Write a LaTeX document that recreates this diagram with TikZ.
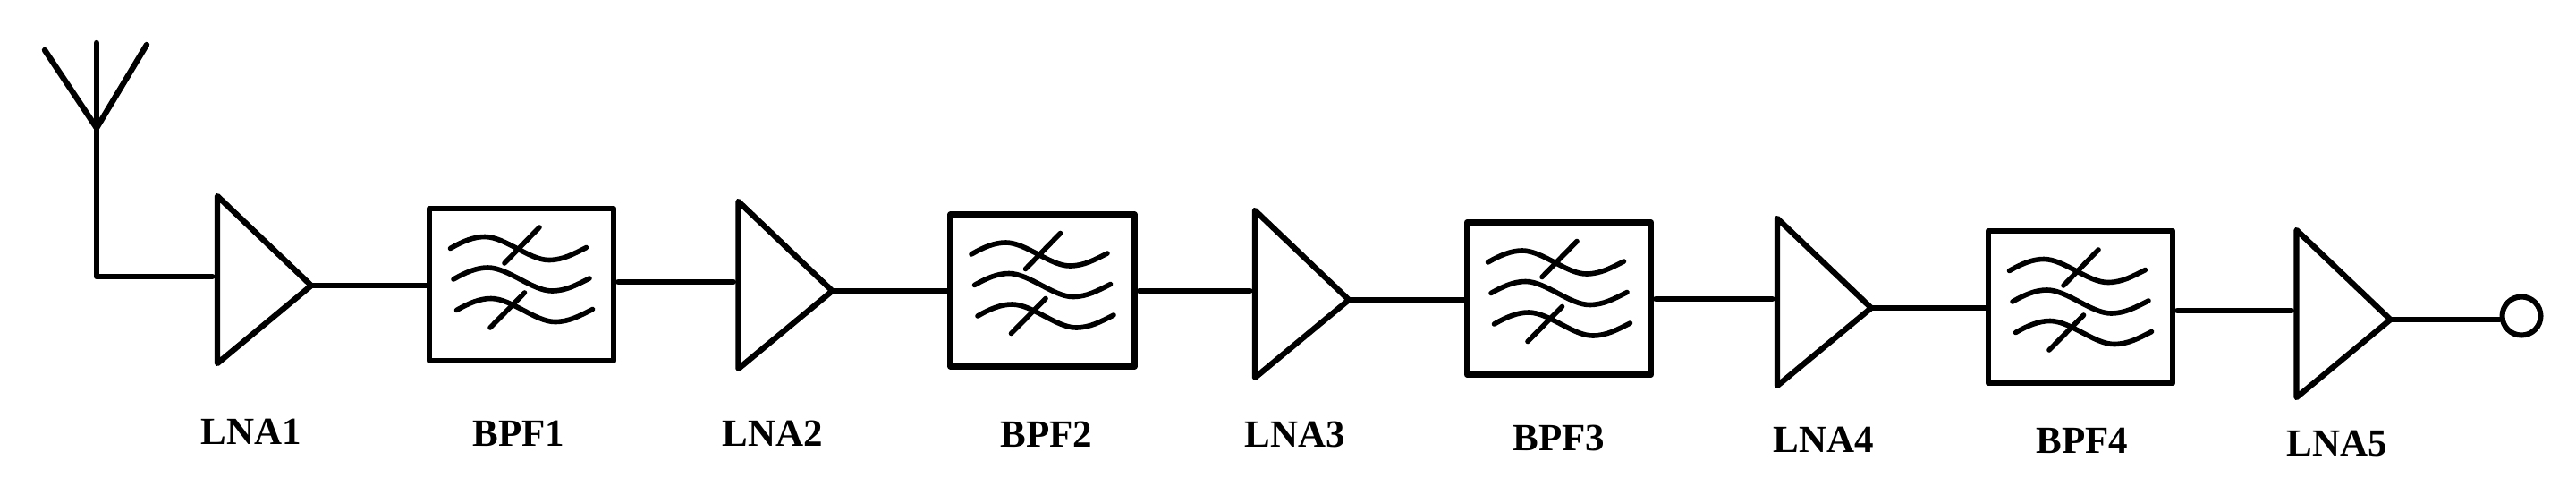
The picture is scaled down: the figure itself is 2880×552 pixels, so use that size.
\documentclass[tikz,border=0pt]{standalone}
\usepackage{fontspec}
\setmainfont{Liberation Serif}
\usepackage{tikz}
\usetikzlibrary{calc}
\tikzstyle{LnaNode}=[rectangle,inner sep=0pt,outer sep=0pt,minimum width=52.5pt,minimum height=100pt]
\tikzstyle{LnaEdge}=[black,line width=3.2pt,line join=round]
\tikzstyle{WireEdge}=[black,line width=3.2pt,line cap=round]
\tikzstyle{GapEdge}=[WireEdge,shorten <=1pt,shorten >=2.8pt]
\tikzstyle{WaveEdge}=[black,line width=2.8pt,line cap=round]
\tikzstyle{BpfNode}=[rectangle,draw=black,line width=3.2pt,line join=round,inner sep=0pt,
minimum width=103pt,minimum height=85pt,
path picture={
    \begin{scope}[shift={(path picture bounding box.center)}]
        \foreach \WaveX/\WaveY in {-3.5/-34.5,0/0,3.5/34.5}{
            \draw[WaveEdge](-76+\WaveX,-6+\WaveY)..controls(-62+\WaveX,-14+\WaveY)and(-50+\WaveX,-19+\WaveY)..(-37.5+\WaveX,-19+\WaveY)
                ..controls(-15+\WaveX,-19+\WaveY)and(12+\WaveX,7+\WaveY)..(34+\WaveX,7+\WaveY)
                ..controls(50+\WaveX,7+\WaveY)and(62+\WaveX,0+\WaveY)..(76+\WaveX,-7+\WaveY);
        }
        \draw[WaveEdge](-19,-24)--(20,-64);
        \draw[WaveEdge](-35,48)--(3.5,9);
    \end{scope}
}]
\tikzstyle{PortNode}=[circle,draw=black,line width=3pt,inner sep=0pt,minimum size=21.5pt]
\tikzstyle{TextNode}=[anchor=base,inner sep=0pt,font=\bfseries\fontsize{21.5}{22}\selectfont]
\begin{document}
\begin{tikzpicture}[x=0.5pt,y=-0.5pt]
        \useasboundingbox(0,0)rectangle(2880,552);
        % amplifiers
        \foreach \n/\x/\y in {LNA1/295.5/319,LNA2/878/325,LNA3/1455.5/335,LNA4/2039.5/344,LNA5/2620/357}{
            \node[LnaNode](\n)at(\x,\y){};
            \draw[LnaEdge]($(\n.west)+(0,-100)$)--($(\n.west)+(0,87)$)--(\n.east)--cycle;
        }
        % filters
        \node[BpfNode](BPF1)at(583,318){};
        \node[BpfNode](BPF2)at(1165.5,324.5){};
        \node[BpfNode](BPF3)at(1743,333.5){};
        \node[BpfNode](BPF4)at(2326,343){};
        \node[PortNode](Port)at(2819,353){};
        % antenna
        \coordinate(AntFeed)at(108,143);
        \coordinate(AntLeft)at(50,56);
        \coordinate(AntMid)at(108,48);
        \coordinate(AntRight)at(164,50);
        \draw[WireEdge](AntLeft)--(AntFeed);
        \draw[WireEdge](AntMid)--(AntFeed);
        \draw[WireEdge](AntRight)--(AntFeed);
        \draw[WireEdge,shorten >=2.8pt,line join=round](AntFeed)|-(LNA1.west|-0,309);
        % chain
        \draw[WireEdge](LNA1.east)--(LNA1.east-|BPF1.west);
        \draw[GapEdge](BPF1.east|-0,315)--(LNA2.west|-0,315);
        \draw[WireEdge](LNA2.east)--(LNA2.east-|BPF2.west);
        \draw[GapEdge](BPF2.east|-0,325)--(LNA3.west|-0,325);
        \draw[WireEdge](LNA3.east)--(LNA3.east-|BPF3.west);
        \draw[GapEdge](BPF3.east|-0,334)--(LNA4.west|-0,334);
        \draw[WireEdge](LNA4.east)--(LNA4.east-|BPF4.west);
        \draw[GapEdge](BPF4.east|-0,347)--(LNA5.west|-0,347);
        \draw[WireEdge](LNA5.east)--(LNA5.east-|Port.west);
        % labels
        \node[TextNode](LNA1Text)at(281,496){LNA1};
        \node[TextNode](BPF1Text)at(580,498){BPF1};
        \node[TextNode](LNA2Text)at(864,498){LNA2};
        \node[TextNode](BPF2Text)at(1170,499){BPF2};
        \node[TextNode](LNA3Text)at(1448,499){LNA3};
        \node[TextNode](BPF3Text)at(1743,503){BPF3};
        \node[TextNode](LNA4Text)at(2039,505){LNA4};
        \node[TextNode](BPF4Text)at(2328,506){BPF4};
        \node[TextNode](LNA5Text)at(2613,509){LNA5};
    \end{tikzpicture}
\end{document}
